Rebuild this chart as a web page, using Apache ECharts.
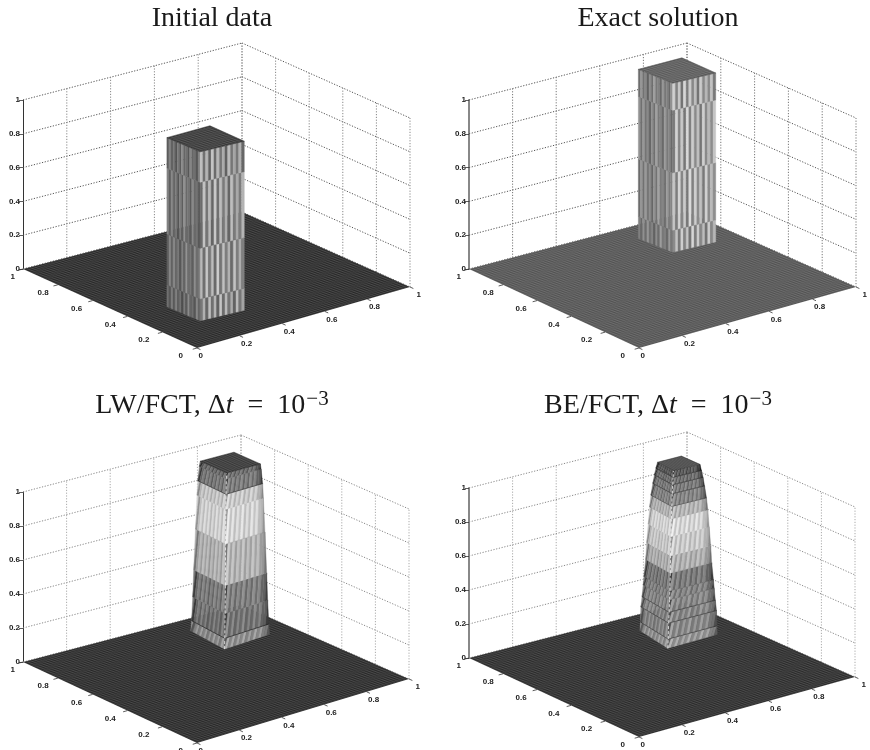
<!DOCTYPE html>
<html><head><meta charset="utf-8">
<style>html,body{margin:0;padding:0;background:#fff}#c{width:870px;height:750px;filter:blur(0.45px)}</style>
<script src="https://cdn.jsdelivr.net/npm/echarts@6/dist/echarts.min.js"></script>
</head><body><div id="c"></div>
<script>
// ---------- values ----------
const xyTicks = [0, 0.2, 0.4, 0.6, 0.8, 1];
const tickLabels = ['0', '0.2', '0.4', '0.6', '0.8', '1'];
const zTicks = [0, 0.2, 0.4, 0.6, 0.8, 1];
const meshCells = 64;

// column centres in the (x, y) floor plane
const initialCentre = [0.276, 0.291];
const exactCentre = [0.789, 0.787];
const lwCentre = [0.79, 0.793];
const beCentre = [0.778, 0.762];

// each ring: height z, half width at the side corners, half width at the front corner
const initialRings = [[0, .1, .09], [.13, .1, .09], [.43, .1, .09], [.82, .1, .09], [1, .1, .09]];
const exactRings = [[0, .1, .09], [.13, .1, .09], [.47, .1, .09], [.84, .1, .09], [1, .1, .09]];
const lwRings = [[0, .102, .122], [.06, .1, .118], [.2, .097, .11], [.36, .0945, .104], [.6, .09, .1], [.8, .086, .094], [.885, .084, .09], [.97, .08, .082], [1, .078, .078]];
const beRings = [[0, .1, .12], [.05, .099, .115], [.14, .098, .11], [.2, .095, .105], [.27, .092, .1], [.32, .09, .097], [.42, .0855, .092], [.52, .083, .089], [.63, .079, .085], [.73, .0755, .08], [.8, .072, .076], [.87, .067, .07], [.92, .063, .066], [.96, .059, .061], [.995, .055, .056]];

// grey level of the surface between one ring and the next
const initialBands = [128, 136, 132, 128];
const exactBands = [146, 150, 148, 146];
const lwBands = [146, 118, 122, 176, 208, 196, 118, 104];
const beBands = [152, 138, 136, 132, 126, 118, 172, 198, 210, 176, 128, 118, 106, 84];

// contour strength on each ring
const initialContours = [0, 0, 0, 0, 0];
const exactContours = [0, 0, 0, 0, 0];
const lwContours = [0, .6, 0, 0, .1, 0, .5, 0, 0];
const beContours = [0, .45, .45, .45, .1, .1, .05, 0, 0, .05, .35, .45, .45, .4, .2];

// grey level of the top face and the floor
const topGrey = [56, 90, 50, 60];
const floorGrey = [40, 82, 40, 42];

// stripe offsets of the left and right faces
const sharpLeft = [-10, -35, 5, -30, 10, -25, -5, -42, 0, -30, 18, -20, -10, -35, 12, -20];
const sharpRight = [-8, 48, -25, 62, -15, 52, -30, 68, -20, 56, -10, 42, -30, 58, -10, 36];
const softLeft = [-55, -12, 14, -16, 20, -10, 18, -20, 14, -14, 22, -10, 16, -18, 24, 8];
const softRight = [30, -14, 22, -18, 16, -12, 24, -18, 14, -16, 22, -12, 14, -20, -25, -60];

const titleParts = [
  [['n', 'Initial data']],
  [['n', 'Exact solution']],
  [['n', 'LW/FCT, Δ'], ['i', 't'], ['n', '  =  10'], ['s', '−3']],
  [['n', 'BE/FCT, Δ'], ['i', 't'], ['n', '  =  10'], ['s', '−3']]
];

// ---------- layout of the four plots (pixel frame of each projected box) ----------
const frames = [
  { F: [197, 348], L: [23, 269], R: [410, 287], B: [242, 212], H: 169, tx: 212, ty: 5, axis: ['#333', 1], wall: ['#555', '#888'] },
  { F: [639, 348], L: [469, 269], R: [856, 287], B: [687, 212], H: 169, tx: 658, ty: 5, axis: ['#888', 2], wall: ['#555', '#777'] },
  { F: [197, 743], L: [23, 662], R: [409, 679], B: [241, 605], H: 170, tx: 212, ty: 389, axis: ['#333', 1], wall: ['#888', '#aaa'] },
  { F: [639, 737], L: [469, 658], R: [855, 677], B: [687, 602], H: 170, tx: 658, ty: 389, axis: ['#888', 2], wall: ['#888', '#aaa'] }
];
const columns = [
  { c: initialCentre, rings: initialRings, bands: initialBands, cont: initialContours, sl: sharpLeft, sr: sharpRight, slant: 0, rot: 1, ridge: false, lean: .05 },
  { c: exactCentre, rings: exactRings, bands: exactBands, cont: exactContours, sl: sharpLeft, sr: sharpRight, slant: 0, rot: 1, ridge: false, lean: 0 },
  { c: lwCentre, rings: lwRings, bands: lwBands, cont: lwContours, sl: softLeft, sr: softRight, slant: 1, rot: 0, ridge: true, lean: 0 },
  { c: beCentre, rings: beRings, bands: beBands, cont: beContours, sl: softLeft, sr: softRight, slant: 1, rot: 0, ridge: true, lean: .11 }
];

// projection of a 3-D point on to the plane of each grid's own axes
function project(f, x, y, z) {
  const a = (1 - x) * (1 - y), b = x * (1 - y), c = (1 - x) * y, d = x * y;
  const px = a * f.F[0] + b * f.R[0] + c * f.L[0] + d * f.B[0];
  const py = a * f.F[1] + b * f.R[1] + c * f.L[1] + d * f.B[1] - z * f.H;
  return [(px - f.L[0]) / (f.R[0] - f.L[0]), (f.L[1] - py) / f.H];
}
const grey = v => { const g = Math.max(0, Math.min(255, Math.round(v))); return 'rgb(' + g + ',' + g + ',' + g + ')'; };
const mix = (p, q, t) => [p[0] + (q[0] - p[0]) * t, p[1] + (q[1] - p[1]) * t];

// wall segments from the tick lists
const wallSegments = [];
zTicks.forEach(z => {
  wallSegments.push([0, 1, z, 1, 1, z, 0]);
  wallSegments.push([1, 1, z, 1, 0, z, 0]);
});
xyTicks.forEach(t => {
  if (t > 0) wallSegments.push([t, 1, 0, t, 1, 1, 1]);
  wallSegments.push([1, t, 0, 1, t, 1, 1]);
});
const meshRows = [];
for (let i = 0; i <= meshCells; i++) meshRows.push([i / meshCells]);

function wallSeries(i, f) {
  return {
    type: 'custom', xAxisIndex: i, yAxisIndex: i, silent: true, clip: false, animation: false,
    data: wallSegments, z: 1,
    renderItem: (p, api) => {
      const s = wallSegments[p.dataIndex];
      const a = api.coord(project(f, s[0], s[1], s[2])), b = api.coord(project(f, s[3], s[4], s[5]));
      return { type: 'line', shape: { x1: a[0], y1: a[1], x2: b[0], y2: b[1] },
        style: { stroke: f.wall[s[6]], lineWidth: 1, lineDash: [1.2, 1.6], fill: null } };
    }
  };
}
function floorSeries(i, f) {
  return {
    type: 'custom', xAxisIndex: i, yAxisIndex: i, silent: true, clip: false, animation: false,
    data: [[0]].concat(meshRows), z: 2,
    renderItem: (p, api) => {
      const pt = (x, y) => api.coord(project(f, x, y, 0));
      if (p.dataIndex === 0) {
        return { type: 'polygon', shape: { points: [pt(0, 0), pt(1, 0), pt(1, 1), pt(0, 1)] }, style: { fill: grey(floorGrey[i]) } };
      }
      const t = meshRows[p.dataIndex - 1][0];
      const light = 'rgba(255,255,255,0.18)';
      const mk = (a, b) => ({ type: 'line', shape: { x1: a[0], y1: a[1], x2: b[0], y2: b[1] }, style: { stroke: light, lineWidth: 0.5, fill: null } });
      return { type: 'group', children: [mk(pt(t, 0), pt(t, 1)), mk(pt(0, t), pt(1, t))] };
    }
  };
}
function columnSeries(i, f) {
  const col = columns[i], n = col.sl.length;
  const corners = (api, r) => {
    const c = col.c, z = r[0], h = r[1], hf = r[2], l = hf * col.lean;
    const pt = (x, y) => api.coord(project(f, x, y, z));
    return { L: pt(c[0] - h, c[1] + h), F: pt(c[0] - hf - l, c[1] - hf + l), R: pt(c[0] + h, c[1] - h), B: pt(c[0] + h, c[1] + h) };
  };
  const rows = col.bands.map((v, k) => [k]).concat([[-1]]);
  return {
    type: 'custom', xAxisIndex: i, yAxisIndex: i, silent: true, clip: false, animation: false,
    data: rows, z: 3,
    renderItem: (p, api) => {
      const k = rows[p.dataIndex][0];
      const children = [];
      if (k < 0) {
        const t = corners(api, col.rings[col.rings.length - 1]);
        children.push({ type: 'polygon', shape: { points: [t.L, t.F, t.R, t.B] }, style: { fill: grey(topGrey[i]), stroke: grey(topGrey[i] - 10), lineWidth: 0.5 } });
        for (let s = 1; s < 12; s++) {
          const a = mix(t.L, t.F, s / 12), b = mix(t.B, t.R, s / 12), c = mix(t.L, t.B, s / 12), d = mix(t.F, t.R, s / 12);
          children.push({ type: 'line', shape: { x1: a[0], y1: a[1], x2: b[0], y2: b[1] }, style: { stroke: 'rgba(255,255,255,0.18)', lineWidth: 0.5, fill: null } });
          children.push({ type: 'line', shape: { x1: c[0], y1: c[1], x2: d[0], y2: d[1] }, style: { stroke: 'rgba(255,255,255,0.18)', lineWidth: 0.5, fill: null } });
        }
        return { type: 'group', children };
      }
      const lo = corners(api, col.rings[k]), hi = corners(api, col.rings[k + 1]);
      const base = col.bands[k], cl = j => Math.max(0, Math.min(n, j)) / n;
      const face = (a0, a1, b0, b1, arr, dim) => {
        for (let j = -col.slant; j < n; j++) {
          const idx = ((j + k * col.rot) % n + n) % n;
          const c = grey(base + dim + arr[idx]);
          const pts = [mix(a0, a1, cl(j)), mix(a0, a1, cl(j + 1)), mix(b0, b1, cl(j + col.slant + 1)), mix(b0, b1, cl(j + col.slant))];
          children.push({ type: 'polygon', shape: { points: pts }, style: { fill: c, stroke: c, lineWidth: 0.4 } });
        }
      };
      face(lo.L, lo.F, hi.L, hi.F, col.sl, -6);
      face(lo.F, lo.R, hi.F, hi.R, col.sr, 0);
      if (col.cont[k] > 0) {
        children.push({ type: 'polyline', shape: { points: [lo.L, lo.F, lo.R] }, style: { stroke: 'rgba(20,20,20,' + col.cont[k] + ')', lineWidth: 0.9, fill: null } });
      }
      if (col.ridge) {
        children.push({ type: 'line', shape: { x1: lo.F[0], y1: lo.F[1], x2: hi.F[0], y2: hi.F[1] }, style: { stroke: 'rgba(255,255,255,0.7)', lineWidth: 1, lineDash: [3, 2], fill: null } });
      }
      return { type: 'group', children };
    }
  };
}
function floorTickSeries(i, f) {
  return {
    type: 'custom', xAxisIndex: i, yAxisIndex: i, silent: true, clip: false, animation: false,
    data: xyTicks.map((t, j) => [j]), z: 4,
    renderItem: (p, api) => {
      const j = p.dataIndex, t = xyTicks[j], txt = tickLabels[j];
      const pt = (x, y) => api.coord(project(f, x, y, 0));
      const a = pt(0, t), a2 = pt(-0.02, t), b = pt(t, 0), b2 = pt(t, -0.02);
      const font = 'bold 8px "Liberation Sans", Arial, sans-serif';
      const line = (u, v) => ({ type: 'line', shape: { x1: u[0], y1: u[1], x2: v[0], y2: v[1] }, style: { stroke: '#333', lineWidth: 0.8, fill: null } });
      return { type: 'group', children: [
        line(a, a2), line(b, b2),
        { type: 'text', style: { x: a[0] - 8 - 6 * (1 - t), y: a[1] + 8, text: txt, font, fill: '#222', align: 'right', verticalAlign: 'middle' } },
        { type: 'text', style: { x: b[0] + 1.5 + (t === 1 ? 5 : 0), y: b[1] + 8, text: txt, font, fill: '#222', align: 'left', verticalAlign: 'middle' } }
      ] };
    }
  };
}

const option = {
  backgroundColor: '#fff', animation: false,
  title: frames.map((f, i) => ({
    left: f.tx, top: f.ty, textAlign: 'center', padding: 0,
    text: titleParts[i].map(q => '{' + q[0] + '|' + q[1] + '}').join(''),
    textStyle: { fontWeight: 'normal', rich: {
      n: { fontFamily: '"Liberation Serif"', fontWeight: 'normal', fontSize: 28, color: '#1a1a1a' },
      i: { fontFamily: '"Liberation Serif"', fontWeight: 'normal', fontStyle: 'italic', fontSize: 28, color: '#1a1a1a' },
      s: { fontFamily: '"Liberation Serif"', fontWeight: 'normal', fontSize: 21, color: '#1a1a1a', verticalAlign: 'top', padding: [0, 0, 12, 1] }
    } }
  })),
  grid: frames.map(f => ({ left: f.L[0], width: f.R[0] - f.L[0], top: f.L[1] - f.H, height: f.H, containLabel: false, show: false })),
  xAxis: frames.map((f, i) => ({ type: 'value', gridIndex: i, min: 0, max: 1, show: false })),
  yAxis: frames.map((f, i) => ({
    type: 'value', gridIndex: i, min: 0, max: 1, interval: 0.2, position: 'left',
    axisLine: { show: true, onZero: false, lineStyle: { color: f.axis[0], width: f.axis[1] } },
    axisTick: { show: true, length: 4, lineStyle: { color: '#333', width: 0.8 } },
    axisLabel: { show: true, margin: 3, fontFamily: '"Liberation Sans"', fontWeight: 'bold', fontSize: 8, color: '#222' },
    splitLine: { show: false }
  })),
  series: frames.flatMap((f, i) => [wallSeries(i, f), floorSeries(i, f), columnSeries(i, f), floorTickSeries(i, f)])
};
const chart = echarts.init(document.getElementById('c'), null, { renderer: 'canvas' });
chart.setOption(option);
</script></body></html>
